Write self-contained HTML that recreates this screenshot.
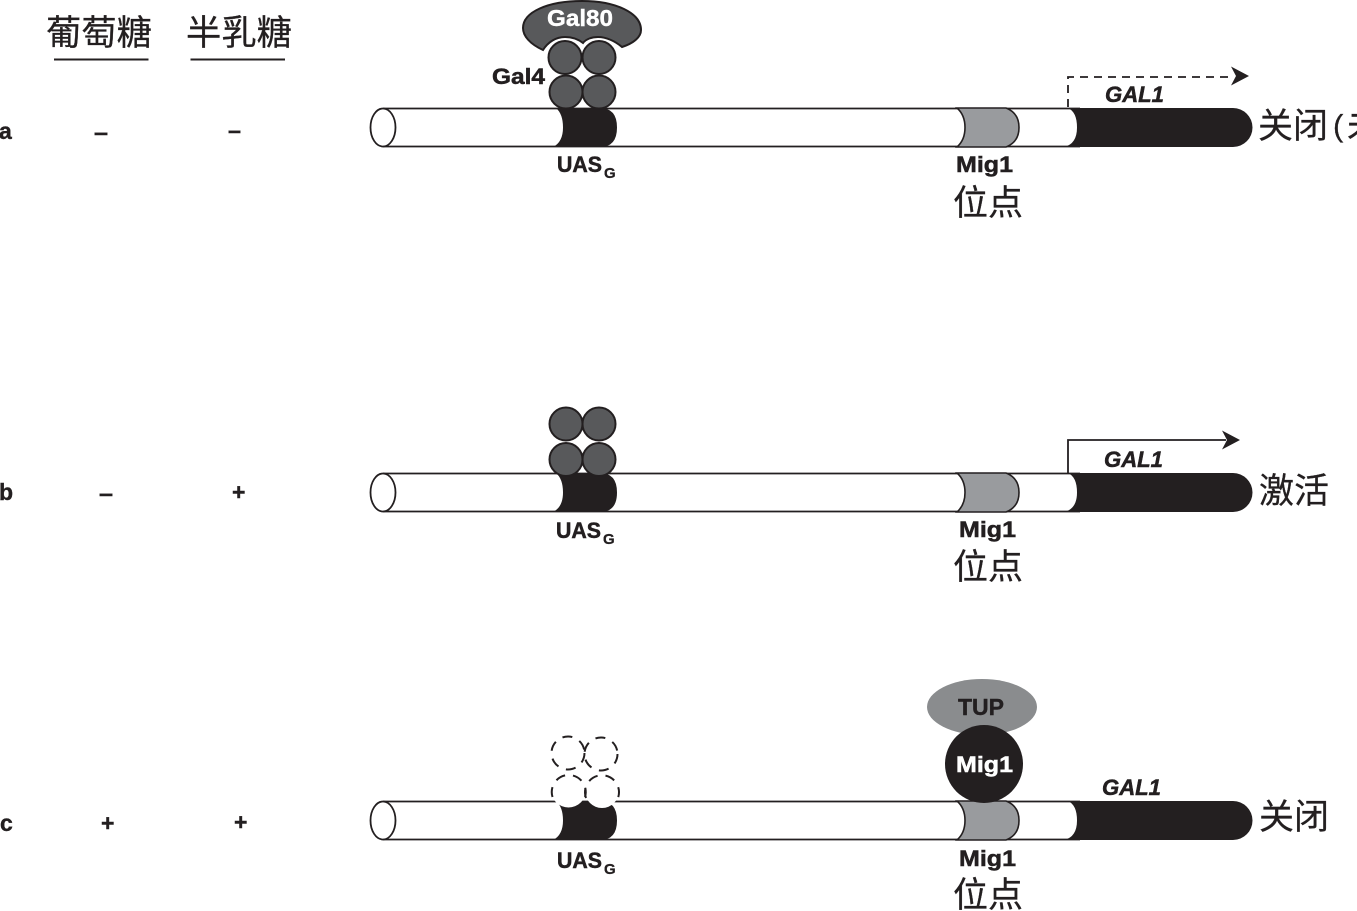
<!DOCTYPE html>
<html><head><meta charset="utf-8"><style>
html,body{margin:0;padding:0;background:#fff;width:1357px;height:911px;overflow:hidden}
svg{display:block}
text{font-family:"Liberation Sans","Noto Sans CJK SC",sans-serif;fill:#231f20}
.b{font-weight:bold;font-size:23px;stroke:#231f20;stroke-width:.4}
.cjk{font-size:35px;stroke:#231f20;stroke-width:.25}
.g{font-weight:bold;font-style:italic;font-size:22px;stroke:#231f20;stroke-width:.5}
.lab{font-weight:bold;font-size:22px;stroke:#231f20;stroke-width:.5}
.sub{font-weight:bold;font-size:15px;stroke:#231f20;stroke-width:.3}
.w{fill:#fff;stroke:#fff}
.c{fill:#58595b;stroke:#231f20;stroke-width:2}
.d{fill:none;stroke:#231f20;stroke-width:2;stroke-dasharray:10 8}
</style></head><body>
<svg width="1357" height="911" viewBox="0 0 1357 911" xmlns="http://www.w3.org/2000/svg">
<defs>
<g id="dna">
  <path d="M383 0H1240V39H383Z" fill="#fff"/>
  <path d="M383 0.5H1080M383 38.5H1080" stroke="#231f20" stroke-width="1.8" fill="none"/>
  <ellipse cx="383" cy="19.5" rx="12.5" ry="19" fill="#fff" stroke="#231f20" stroke-width="1.8"/>
  <path d="M553 39Q563 34 563 19.500Q563 6 556 0H600Q617 0 617 19.500Q617 39 600 39Z" fill="#231f20"/>
  <path d="M957 0Q965 7 965 19.500Q965 32 957 39H1006Q1019 34 1019 19.500Q1019 5 1006 0Z" fill="#999b9e" stroke="#231f20" stroke-width="1.600"/>
  <path d="M1064 39Q1077 36 1077 19.500Q1077 4 1068 0H1233A19.500 19.500 0 0 1 1233 39Z" fill="#231f20"/>
</g>
<path id="ah" d="M0 0L-18 -9.500L-13 0L-18 9.500Z" fill="#231f20"/>
</defs>

<!-- header -->
<text class="cjk" x="46" y="45" textLength="106" lengthAdjust="spacingAndGlyphs">葡萄糖</text>
<text class="cjk" x="186" y="45" textLength="106" lengthAdjust="spacingAndGlyphs">半乳糖</text>
<rect x="54" y="58.500" width="94.500" height="2" fill="#231f20"/>
<rect x="190.500" y="58.500" width="94.500" height="2" fill="#231f20"/>

<!-- row a -->
<text class="b" x="-1" y="139">a</text>
<text class="b" x="94" y="140" textLength="14" lengthAdjust="spacingAndGlyphs">–</text>
<text class="b" x="228" y="138" textLength="13" lengthAdjust="spacingAndGlyphs">–</text>
<use href="#dna" y="108"/>
<path d="M543 50C530 44 523 36 523 28C523 12 548 1 582 1C616 1 641 13 641 30C641 37 634 43 622 47C615 41 606 37 598 37C592 37 586 39 583 43C578 39 572 37 565 37C556 37 548 42 543 50Z" fill="#58595b" stroke="#231f20" stroke-width="2"/>
<text class="b w" x="547" y="26" textLength="66" lengthAdjust="spacingAndGlyphs">Gal80</text>
<circle class="c" cx="565" cy="57.500" r="16.500"/>
<circle class="c" cx="599" cy="57.500" r="16.500"/>
<circle class="c" cx="566" cy="92" r="16.500"/>
<circle class="c" cx="599" cy="92" r="16.500"/>
<text class="lab" x="492" y="84" textLength="53" lengthAdjust="spacingAndGlyphs">Gal4</text>
<text class="lab" x="557" y="172" textLength="45" lengthAdjust="spacingAndGlyphs">UAS</text>
<text class="sub" x="604" y="178">G</text>
<text class="lab" x="956" y="172" textLength="57" lengthAdjust="spacingAndGlyphs">Mig1</text>
<text class="cjk" x="953" y="215" textLength="70" lengthAdjust="spacingAndGlyphs">位点</text>
<path d="M1068 107V77H1234" fill="none" stroke="#231f20" stroke-width="1.800" stroke-dasharray="8 6"/>
<use href="#ah" x="1249" y="76"/>
<text class="g" x="1105" y="102" textLength="59" lengthAdjust="spacingAndGlyphs">GAL1</text>
<text class="cjk" x="1258" y="138" textLength="70" lengthAdjust="spacingAndGlyphs">关闭</text>
<text class="cjk" x="1333" y="136" style="font-size:31px">(</text>
<text class="cjk" x="1347" y="138">未</text>

<!-- row b -->
<text class="b" x="-1" y="500">b</text>
<text class="b" x="99" y="501" textLength="14" lengthAdjust="spacingAndGlyphs">–</text>
<text class="b" x="232" y="500">+</text>
<use href="#dna" y="473"/>
<circle class="c" cx="566" cy="424" r="16.500"/>
<circle class="c" cx="599" cy="424" r="16.500"/>
<circle class="c" cx="566" cy="459.500" r="16.500"/>
<circle class="c" cx="599" cy="459.500" r="16.500"/>
<text class="lab" x="556" y="538" textLength="45" lengthAdjust="spacingAndGlyphs">UAS</text>
<text class="sub" x="603" y="544">G</text>
<text class="lab" x="959" y="537" textLength="57" lengthAdjust="spacingAndGlyphs">Mig1</text>
<text class="cjk" x="953" y="579" textLength="70" lengthAdjust="spacingAndGlyphs">位点</text>
<path d="M1068 473V440H1226" fill="none" stroke="#231f20" stroke-width="1.800"/>
<use href="#ah" x="1240" y="440"/>
<text class="g" x="1104" y="467" textLength="59" lengthAdjust="spacingAndGlyphs">GAL1</text>
<text class="cjk" x="1259" y="503" textLength="70" lengthAdjust="spacingAndGlyphs">激活</text>

<!-- row c -->
<text class="b" x="0" y="831">c</text>
<text class="b" x="101" y="831">+</text>
<text class="b" x="234" y="830">+</text>
<use href="#dna" y="801"/>
<circle class="d" cx="568" cy="753" r="16.500"/>
<circle class="d" cx="601" cy="754" r="16.500"/>
<circle cx="568.500" cy="790" r="17.500" fill="#fff"/>
<circle cx="602" cy="791" r="17" fill="#fff"/>
<path class="d" d="M552.500 797A17 17 0 1 1 585 797"/>
<path class="d" d="M586 798A17 17 0 1 1 618 798"/>
<ellipse cx="982" cy="707" rx="55" ry="28" fill="#8a8c8e"/>
<text class="b" x="958" y="715" textLength="46" lengthAdjust="spacingAndGlyphs">TUP</text>
<circle cx="984" cy="764" r="39" fill="#231f20"/>
<text class="lab w" x="956" y="772" textLength="57" lengthAdjust="spacingAndGlyphs">Mig1</text>
<text class="lab" x="557" y="868" textLength="45" lengthAdjust="spacingAndGlyphs">UAS</text>
<text class="sub" x="604" y="874">G</text>
<text class="lab" x="959" y="866" textLength="57" lengthAdjust="spacingAndGlyphs">Mig1</text>
<text class="cjk" x="953" y="907" textLength="70" lengthAdjust="spacingAndGlyphs">位点</text>
<text class="g" x="1102" y="795" textLength="59" lengthAdjust="spacingAndGlyphs">GAL1</text>
<text class="cjk" x="1259" y="829" textLength="70" lengthAdjust="spacingAndGlyphs">关闭</text>
</svg>
</body></html>
